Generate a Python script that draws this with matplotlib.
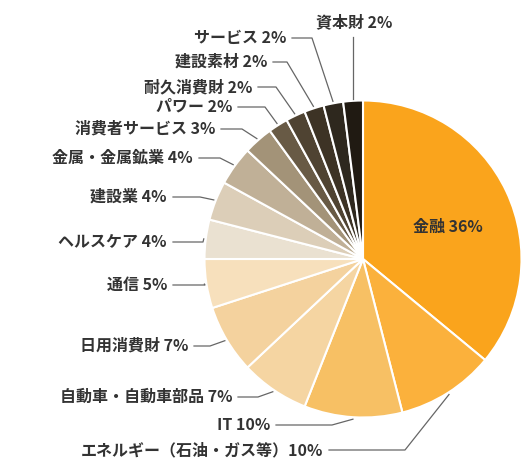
import numpy as np
import matplotlib
matplotlib.use("Agg")
import matplotlib.pyplot as plt

plt.rcParams['font.family'] = ['Noto Sans CJK JP', 'DejaVu Sans']

# sector weights, clockwise from 12 o'clock
sectors = ['金融', 'エネルギー（石油・ガス等）', 'IT', '自動車・自動車部品', '日用消費財',
           '通信', 'ヘルスケア', '建設業', '金属・金属鉱業', '消費者サービス',
           'パワー', '耐久消費財', '建設素材', 'サービス', '資本財']
weights = [36, 10, 10, 7, 7, 5, 4, 4, 4, 3, 2, 2, 2, 2, 2]
colors = ['#FAA41C', '#FBB13C', '#F7C064', '#F5D5A2', '#F4D29E',
          '#F7E0BC', '#EAE1D1', '#DCCEB8', '#C0B097', '#A39378',
          '#685A45', '#4F4332', '#3D3325', '#2E281E', '#201A12']

W, H = 523, 463
cx, cy, R = 363, 259, 158.5   # pixel coords, y from top

# label layout: (text right edge / centre x, text y, elbow x), pixels from top-left
label_layout = [None,
                (323, 450, 405), (270, 425, 332), (232, 397, 258), (188, 346, 210),
                (167, 285, 205), (167, 242, 203), (167, 197, 200), (193, 158, 220),
                (215, 129, 242), (232, 107, 265), (252, 87, 276), (267, 62, 287),
                (286, 38, 312), (354, 22, None)]

fig = plt.figure(figsize=(W / 100, H / 100), dpi=100)
ax = fig.add_axes([0, 0, 1, 1])
ax.pie(weights, colors=colors, startangle=90, counterclock=False,
       center=(cx, H - cy), radius=R,
       wedgeprops=dict(edgecolor='white', linewidth=1.5))
ax.set_xlim(0, W)
ax.set_ylim(0, H)
ax.set_aspect('equal')
ax.axis('off')

txt_kw = dict(fontsize=11.5, fontweight='bold', color='#333333', va='center')
line_kw = dict(color='#666666', linewidth=0.9)

cum = np.cumsum([0] + weights)
total = cum[-1]
for i, name in enumerate(sectors):
    label = f"{name} {weights[i]}%" if not name.endswith('）') else f"{name}{weights[i]}%"
    mid = np.deg2rad((cum[i] + weights[i] / 2) / total * 360)
    ex = cx + (R + 2) * np.sin(mid)
    ey = cy - (R + 2) * np.cos(mid)
    if label_layout[i] is None:
        ax.text(448, H - 227, label, ha='center', **txt_kw)
        continue
    tx, ty, elbow = label_layout[i]
    if elbow is None:
        ax.text(tx, H - ty, label, ha='center', **txt_kw)
        ax.plot([ex, ex], [H - (ty + 15), H - ey], **line_kw)
    else:
        ax.text(tx, H - ty, label, ha='right', **txt_kw)
        ax.plot([tx + 6, elbow, ex], [H - ty, H - ty, H - ey], **line_kw)

fig.savefig('out.png', dpi=100)
